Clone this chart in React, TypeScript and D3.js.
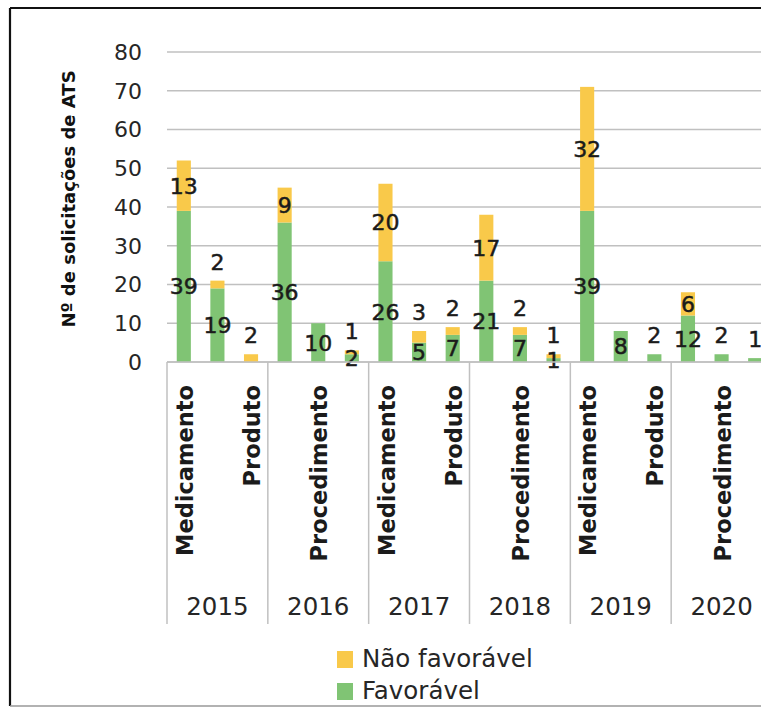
import React from 'react';
import * as d3 from 'd3';

// Requests per year and technology type
const years = ['2015', '2016', '2017', '2018', '2019', '2020'];
const types = ['Medicamento', 'Procedimento', 'Produto'];
const favoravel = [39, 19, 0, 36, 10, 2, 26, 5, 7, 21, 7, 1, 39, 8, 2, 12, 2, 1];
const naoFavoravel = [13, 2, 2, 9, 0, 1, 20, 3, 2, 17, 2, 1, 32, 0, 0, 6, 0, 0];
const yTicks = [0, 10, 20, 30, 40, 50, 60, 70, 80];
const seriesNames = ['Não favorável', 'Favorável'];

const W = 761;
const H = 708;
const FONT = '"DejaVu Sans", sans-serif';
const GREEN = '#80c474';
const YELLOW = '#f9c94a';
const GRID = '#c0c0c0';
const TEXT = '#1b1b1b';

type Row = { key: string; year: string; type: string; fav: number; nf: number };

const rows: Row[] = years.flatMap((year, yi) =>
  types.map((type, ti) => {
    const i = yi * types.length + ti;
    return { key: `${year}-${type}`, year, type, fav: favoravel[i], nf: naoFavoravel[i] };
  })
);

export default function App() {
  const left = 167;
  const right = 772;
  const y = d3.scaleLinear().domain([0, 80]).range([362, 52]);
  const x = d3
    .scaleBand<string>()
    .domain(rows.map((r) => r.key))
    .range([left, right])
    .paddingInner(0.58)
    .paddingOuter(0.29);
  const xYear = d3.scaleBand<string>().domain(years).range([left, right]).padding(0);

  const stacked = d3.stack<Row>().keys(['fav', 'nf'])(rows);
  const colors: Record<string, string> = { fav: GREEN, nf: YELLOW };

  // label placement: centred in the segment, or just above the bar when the segment is too thin
  const labels: { x: number; y: number; v: number }[] = [];
  rows.forEach((r) => {
    const cx = (x(r.key) as number) + x.bandwidth() / 2;
    const top = y(r.fav + r.nf);
    if (r.fav > 0) {
      if (r.nf === 0 && r.fav < 5) labels.push({ x: cx, y: top - 19, v: r.fav });
      else labels.push({ x: cx, y: y(r.fav / 2), v: r.fav });
    }
    if (r.nf > 0) {
      if (r.nf < 5) labels.push({ x: cx, y: top - 19, v: r.nf });
      else labels.push({ x: cx, y: y(r.fav + r.nf / 2), v: r.nf });
    }
  });

  const axisY = y(0);

  return (
    <svg
      width={W}
      height={H}
      style={{ position: 'absolute', left: 0, top: 0, background: '#fff' }}
      fontFamily={FONT}
    >
      <rect x={0} y={0} width={W} height={H} fill="#fff" />
      {/* chart frame */}
      <line x1={10} y1={8} x2={W} y2={8} stroke="#111" strokeWidth={2.2} />
      <line x1={10} y1={8} x2={10} y2={706} stroke="#111" strokeWidth={2.2} />
      <line x1={10} y1={706} x2={W} y2={706} stroke="#999" strokeWidth={1.5} />

      {/* gridlines */}
      {yTicks.map((t) => (
        <line key={t} x1={left} x2={right} y1={y(t)} y2={y(t)} stroke={GRID} strokeWidth={1.5} />
      ))}
      {yTicks.map((t) => (
        <text
          key={'t' + t}
          x={142}
          y={y(t)}
          dy="0.36em"
          textAnchor="end"
          fontSize={22}
          fill="#262626"
        >
          {t}
        </text>
      ))}
      <text
        transform={`translate(69,${(y(0) + y(80)) / 2 - 8}) rotate(-90)`}
        textAnchor="middle"
        dy="0.35em"
        fontSize={18}
        fontWeight="bold"
        fill="#111"
      >
        Nº de solicitações de ATS
      </text>

      {/* stacked bars */}
      {stacked.map((s) =>
        s.map((d) =>
          d[1] - d[0] > 0 ? (
            <rect
              key={s.key + d.data.key}
              x={x(d.data.key)}
              width={x.bandwidth()}
              y={y(d[1])}
              height={y(d[0]) - y(d[1])}
              fill={colors[s.key]}
            />
          ) : null
        )
      )}

      {labels.map((l, i) => (
        <text
          key={'l' + i}
          x={l.x}
          y={l.y}
          dy="0.36em"
          textAnchor="middle"
          fontSize={22}
          fill={TEXT}
          stroke={TEXT}
          strokeWidth={0.5}
        >
          {l.v}
        </text>
      ))}

      {/* category axis */}
      <line x1={left} x2={right} y1={axisY} y2={axisY} stroke={GRID} strokeWidth={1.5} />
      {years.map((yr) => (
        <line
          key={'s' + yr}
          x1={xYear(yr)}
          x2={xYear(yr)}
          y1={axisY}
          y2={624}
          stroke={GRID}
          strokeWidth={1.5}
        />
      ))}
      {rows.map((r, i) =>
        i % 2 === 0 ? (
          <text
            key={'c' + r.key}
            transform={`translate(${(x(r.key) as number) + x.bandwidth() / 2 + 1},385) rotate(-90)`}
            textAnchor="end"
            dy="0.36em"
            fontSize={22.5}
            fontWeight="bold"
            fill={TEXT}
          >
            {r.type}
          </text>
        ) : null
      )}
      {years.map((yr) => (
        <text
          key={'y' + yr}
          x={(xYear(yr) as number) + xYear.bandwidth() / 2}
          y={615}
          textAnchor="middle"
          fontSize={24.5}
          fill="#262626"
        >
          {yr}
        </text>
      ))}

      {/* legend */}
      {seriesNames.map((name, i) => (
        <g key={name} transform={`translate(337,${651 + i * 32})`}>
          <rect x={0} y={0} width={16} height={17} fill={i === 0 ? YELLOW : GREEN} />
          <text x={25} y={16} fontSize={24.5} fill="#262626">
            {name}
          </text>
        </g>
      ))}
    </svg>
  );
}
